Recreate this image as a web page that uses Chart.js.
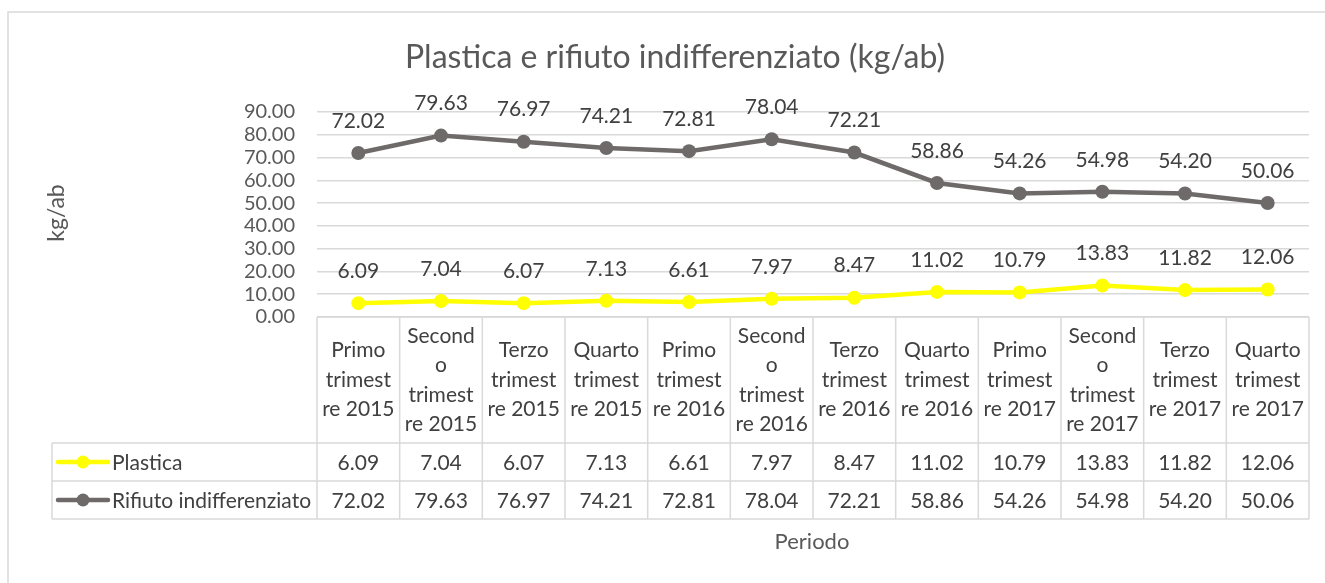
<!DOCTYPE html>
<html>
<head>
<meta charset="utf-8">
<script src="https://cdn.jsdelivr.net/npm/chart.js@4.4.1/dist/chart.umd.min.js"></script>
<style>
  body { margin: 0; background: #fff; }
  #wrap { width: 1325px; height: 583px; position: relative; }
</style>
</head>
<body>
<div id="wrap"><canvas id="chart"></canvas></div>
<script>
// periods (already split the way the table wraps them)
const periods = [
    ['Primo', 'trimest', 're 2015'],
    ['Second', 'o', 'trimest', 're 2015'],
    ['Terzo', 'trimest', 're 2015'],
    ['Quarto', 'trimest', 're 2015'],
    ['Primo', 'trimest', 're 2016'],
    ['Second', 'o', 'trimest', 're 2016'],
    ['Terzo', 'trimest', 're 2016'],
    ['Quarto', 'trimest', 're 2016'],
    ['Primo', 'trimest', 're 2017'],
    ['Second', 'o', 'trimest', 're 2017'],
    ['Terzo', 'trimest', 're 2017'],
    ['Quarto', 'trimest', 're 2017'],
];
const plastica = [6.09, 7.04, 6.07, 7.13, 6.61, 7.97, 8.47, 11.02, 10.79, 13.83, 11.82, 12.06];
const rifiuto = [72.02, 79.63, 76.97, 74.21, 72.81, 78.04, 72.21, 58.86, 54.26, 54.98, 54.20, 50.06];
const yMin = 0, yMax = 90, yStep = 10;

const FONT = 'Lato, "Open Sans", sans-serif';
const YELLOW = '#ffff00';
const GREY = '#6f6a6a';
const GRID = '#d9d9d9';
const TXT = '#404040';

// value labels above each point
const valueLabels = {
    id: 'valueLabels',
    afterDatasetsDraw(chart) {
        const ctx = chart.ctx;
        ctx.save();
        ctx.font = '21px ' + FONT;
        ctx.fillStyle = TXT;
        ctx.textAlign = 'center';
        ctx.textBaseline = 'middle';
        chart.data.datasets.forEach((ds, i) => {
            chart.getDatasetMeta(i).data.forEach((pt, j) => {
                ctx.fillText(ds.data[j].toFixed(2), pt.x, pt.y - 32);
            });
        });
        ctx.restore();
    }
};

// frame, title, axis titles and the data table under the plot
const decorations = {
    id: 'decorations',
    afterDraw(chart) {
        const ctx = chart.ctx;
        const area = chart.chartArea;
        const x = chart.scales.x;
        const n = periods.length;
        const colW = (area.right - area.left) / n;
        const headTop = area.bottom, headBot = 443, row1 = 481, row2 = 519;
        const legendLeft = 52;

        ctx.save();
        // outer frame (only top/left edges are visible)
        ctx.strokeStyle = GRID;
        ctx.lineWidth = 1.5;
        ctx.beginPath();
        ctx.moveTo(8, 600); ctx.lineTo(8, 12); ctx.lineTo(1340, 12);
        ctx.stroke();

        // title
        ctx.fillStyle = '#595959';
        ctx.font = '32px ' + FONT;
        ctx.textAlign = 'center';
        ctx.textBaseline = 'middle';
        ctx.fillText('Plastica e rifiuto indifferenziato (kg/ab)', 675, 58);

        // axis titles
        ctx.font = '22px ' + FONT;
        ctx.fillText('Periodo', 812, 542);
        ctx.save();
        ctx.translate(57, 213);
        ctx.rotate(-Math.PI / 2);
        ctx.font = '23px ' + FONT;
        ctx.fillText('kg/ab', 0, 0);
        ctx.restore();

        // table grid
        ctx.strokeStyle = GRID;
        ctx.lineWidth = 1.5;
        ctx.beginPath();
        ctx.moveTo(area.left, headTop); ctx.lineTo(area.right, headTop);
        [headBot, row1, row2].forEach(yy => { ctx.moveTo(legendLeft, yy); ctx.lineTo(area.right, yy); });
        for (let i = 0; i <= n; i++) {
            const xx = area.left + i * colW;
            ctx.moveTo(xx, headTop); ctx.lineTo(xx, row2);
        }
        ctx.moveTo(legendLeft, headBot); ctx.lineTo(legendLeft, row2);
        ctx.stroke();

        // header cells
        ctx.fillStyle = TXT;
        ctx.font = '21px ' + FONT;
        const lh = 29.5;
        const headMid = (headTop + headBot) / 2;
        periods.forEach((lines, i) => {
            const cx = x.getPixelForValue(i);
            const y0 = headMid - (lines.length - 1) * lh / 2;
            lines.forEach((t, k) => ctx.fillText(t, cx, y0 + k * lh));
        });

        // value rows with legend keys
        const rows = [
            { name: 'Plastica', data: plastica, color: YELLOW, mid: (headBot + row1) / 2 },
            { name: 'Rifiuto indifferenziato', data: rifiuto, color: GREY, mid: (row1 + row2) / 2 },
        ];
        rows.forEach(r => {
            ctx.textAlign = 'center';
            ctx.fillStyle = TXT;
            r.data.forEach((v, i) => ctx.fillText(v.toFixed(2), x.getPixelForValue(i), r.mid + 1));
            ctx.strokeStyle = r.color;
            ctx.lineWidth = 4.5;
            ctx.lineCap = 'round';
            ctx.beginPath();
            ctx.moveTo(58, r.mid); ctx.lineTo(108, r.mid);
            ctx.stroke();
            ctx.fillStyle = r.color;
            ctx.beginPath();
            ctx.arc(83, r.mid, 6.5, 0, Math.PI * 2);
            ctx.fill();
            ctx.fillStyle = TXT;
            ctx.textAlign = 'left';
            ctx.fillText(r.name, 112, r.mid + 1);
        });
        ctx.restore();
    }
};

new Chart(document.getElementById('chart'), {
    type: 'line',
    data: {
        labels: periods.map(p => p.join(' ')),
        datasets: [
            {
                label: 'Plastica',
                data: plastica,
                borderColor: YELLOW,
                backgroundColor: YELLOW,
                borderWidth: 4.5,
                pointRadius: 7,
                pointBorderWidth: 0,
                pointBackgroundColor: YELLOW,
                tension: 0,
            },
            {
                label: 'Rifiuto indifferenziato',
                data: rifiuto,
                borderColor: GREY,
                backgroundColor: GREY,
                borderWidth: 4.5,
                pointRadius: 7,
                pointBorderWidth: 0,
                pointBackgroundColor: GREY,
                tension: 0,
            },
        ],
    },
    options: {
        responsive: true,
        maintainAspectRatio: false,
        animation: false,
        layout: { padding: { top: 112, bottom: 266, right: 16, left: 0 } },
        plugins: {
            legend: { display: false },
            tooltip: { enabled: false },
        },
        scales: {
            x: {
                display: false,
                offset: true,
            },
            y: {
                min: yMin,
                max: yMax,
                afterFit: (s) => { s.width = 317; },
                grid: { color: GRID, lineWidth: 1.5, drawTicks: false },
                border: { display: false },
                ticks: {
                    stepSize: yStep,
                    autoSkip: false,
                    padding: 22,
                    color: '#595959',
                    font: { family: FONT, size: 20 },
                    callback: (v) => v.toFixed(2),
                },
            },
        },
    },
    plugins: [valueLabels, decorations],
});
</script>
</body>
</html>
